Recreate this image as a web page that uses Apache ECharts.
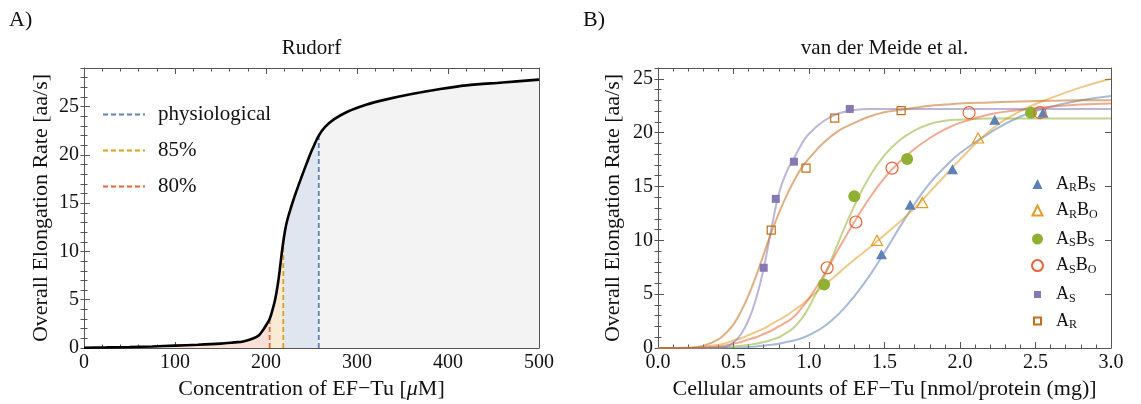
<!DOCTYPE html>
<html><head><meta charset="utf-8">
<script src="https://cdn.jsdelivr.net/npm/echarts@6/dist/echarts.min.js"></script>
<style>html,body{margin:0;padding:0;background:#fff}#c{width:1141px;height:404px}</style>
</head><body><div id="c"></div>
<script>
// ---------- Panel A (Rudorf) ----------
const rudorfX = [0, 25, 50, 75, 100, 125, 150, 165, 175, 185, 192, 197, 201, 204, 207, 210, 213, 215, 217, 219, 221, 223, 226, 230, 234, 239, 245, 251, 258, 265, 275, 290, 310, 330, 360, 390, 420, 460, 500];
const rudorfY = [0.03, 0.06, 0.1, 0.16, 0.25, 0.33, 0.45, 0.58, 0.68, 0.95, 1.3, 1.9, 2.5, 3.0, 3.9, 5.0, 6.6, 8.0, 9.6, 11.0, 12.2, 13.1, 14.1, 15.3, 16.4, 17.7, 19.2, 20.6, 22.0, 22.9, 23.7, 24.5, 25.2, 25.7, 26.3, 26.8, 27.2, 27.5, 27.8];
const thresholdNames = ['physiological', '85%', '80%'];
const thresholdX = [258, 219, 204];
const thresholdY = [22.0, 11.0, 3.0];

// ---------- Panel B (van der Meide et al.) ----------
const fitX   = [0, 0.2, 0.3, 0.4, 0.45, 0.5, 0.55, 0.6, 0.65, 0.7, 0.75, 0.8, 0.85, 0.9, 0.95, 1.0, 1.1, 1.2, 1.3, 1.4, 1.5, 1.6, 1.7, 1.8, 1.9, 2.0, 2.2, 2.4, 2.6, 2.8, 3.0];
const fitARBS = [0, 0, 0, 0, 0, 0.02, 0.05, 0.1, 0.15, 0.22, 0.3, 0.4, 0.55, 0.7, 0.9, 1.2, 2.0, 3.2, 4.8, 6.7, 8.9, 11.2, 13.4, 15.3, 16.8, 18.1, 20.0, 21.5, 22.4, 23.0, 23.4];
const fitARBO = [0, 0, 0.1, 0.3, 0.45, 0.7, 0.9, 1.2, 1.5, 1.8, 2.2, 2.6, 3.0, 3.5, 4.0, 4.6, 5.8, 7.0, 8.2, 9.3, 10.5, 11.7, 13.0, 14.5, 16.0, 17.5, 20.2, 22.0, 23.2, 24.2, 25.0];
const fitASBS = [0, 0, 0, 0.05, 0.1, 0.15, 0.2, 0.3, 0.4, 0.55, 0.75, 1.0, 1.4, 1.9, 2.7, 3.8, 6.6, 10.0, 13.2, 15.9, 17.9, 19.3, 20.2, 20.8, 21.1, 21.2, 21.3, 21.3, 21.3, 21.3, 21.3];
const fitASBO = [0, 0, 0.05, 0.15, 0.25, 0.4, 0.55, 0.8, 1.0, 1.3, 1.6, 2.0, 2.4, 2.9, 3.7, 4.6, 6.8, 9.3, 11.7, 13.9, 15.8, 17.3, 18.5, 19.5, 20.3, 20.9, 21.7, 22.1, 22.4, 22.6, 22.7];
const fitAS   = [0, 0, 0, 0.02, 0.1, 0.5, 1.3, 2.6, 4.6, 7.4, 11.0, 14.3, 16.3, 17.6, 18.9, 19.9, 21.1, 21.8, 22.1, 22.2, 22.2, 22.2, 22.2, 22.2, 22.2, 22.2, 22.2, 22.2, 22.2, 22.2, 22.2];
const fitAR   = [0, 0.02, 0.2, 0.8, 1.4, 2.2, 3.4, 4.9, 6.7, 8.7, 10.7, 12.5, 14.1, 15.5, 16.7, 17.6, 19.1, 20.2, 20.9, 21.5, 21.9, 22.1, 22.3, 22.5, 22.6, 22.7, 22.8, 22.9, 22.95, 23.0, 23.0];

const ptsARBS_x = [1.48, 1.67, 1.95, 2.23, 2.55];
const ptsARBS_y = [8.7, 13.3, 16.6, 21.2, 21.85];
const ptsARBO_x = [1.45, 1.75, 2.12];
const ptsARBO_y = [10.0, 13.5, 19.5];
const ptsASBS_x = [1.10, 1.30, 1.65, 2.47];
const ptsASBS_y = [5.9, 14.1, 17.55, 21.85];
const ptsASBO_x = [1.12, 1.31, 1.55, 2.06, 2.53];
const ptsASBO_y = [7.45, 11.7, 16.7, 21.85, 21.85];
const ptsAS_x = [0.70, 0.78, 0.90, 1.27];
const ptsAS_y = [7.45, 13.85, 17.3, 22.2];
const ptsAR_x = [0.75, 0.98, 1.17, 1.61];
const ptsAR_y = [10.95, 16.7, 21.35, 22.05];

const xTicksA = {min: 0, max: 500, interval: 100};
const xTicksB = {min: 0, max: 3, interval: 0.5};
const yTicksA = {min: 0, max: 29, interval: 5};
const yTicksB = {min: 0, max: 26, interval: 5};

// ---------- styling ----------
const F = "'Liberation Serif', 'DejaVu Serif', serif";
const INK = '#111';
const FRAME = '#555';
const C = {blue: '#5E81B5', orange: '#E19C24', green: '#8FB032', red: '#EB6235', purple: '#8778B3', brown: '#C56E1A'};

const zip = (xs, ys) => xs.map((x, i) => [x, ys[i]]);
const rudorf = zip(rudorfX, rudorfY);
const seg = (a, b) => rudorf.filter(p => p[0] >= a && p[0] <= b);

function xAxes(g, t, name, title, fmt) {
  const base = {
    gridIndex: g, type: 'value', min: t.min, max: t.max, interval: t.interval,
    axisLine: {show: true, onZero: false, lineStyle: {color: FRAME, width: 1}},
    axisTick: {show: true, inside: true, length: 6, lineStyle: {color: FRAME}},
    minorTick: {show: true, splitNumber: 5, length: 3.5, lineStyle: {color: FRAME}},
    splitLine: {show: false}, minorSplitLine: {show: false}
  };
  return [
    Object.assign({}, base, {position: 'bottom',
      axisLabel: {fontSize: 20, fontFamily: F, color: INK, margin: 5, formatter: fmt},
      name: name, nameLocation: 'middle', nameGap: 30,
      nameTextStyle: {fontSize: 22, fontFamily: F, color: INK,
        rich: {n: {fontSize: 22, fontFamily: F, color: INK}, i: {fontSize: 22, fontFamily: F, color: INK, fontStyle: 'italic'}}}}),
    Object.assign({}, base, {position: 'top', axisLabel: {show: false},
      name: title, nameLocation: 'middle', nameGap: 9,
      nameTextStyle: {fontSize: 21, fontFamily: F, color: INK}})
  ];
}
function yAxes(g, t, name, nameGap) {
  const common = {gridIndex: g, type: 'value', min: t.min, max: t.max, splitLine: {show: false}};
  return [
    Object.assign({}, common, {position: 'left', interval: t.interval,
      axisLine: {show: true, onZero: false, lineStyle: {color: FRAME, width: 1}},
      axisTick: {show: true, inside: true, length: 6, lineStyle: {color: FRAME}},
      axisLabel: {fontSize: 20, fontFamily: F, color: INK, margin: 5, showMaxLabel: false},
      name: name, nameLocation: 'middle', nameGap: nameGap,
      nameTextStyle: {fontSize: 22, fontFamily: F, color: INK}}),
    Object.assign({}, common, {position: 'left', interval: 1,
      axisLine: {show: false}, axisLabel: {show: false},
      axisTick: {show: true, inside: true, length: 3.5, lineStyle: {color: FRAME}}}),
    Object.assign({}, common, {position: 'right', interval: t.interval,
      axisLine: {show: true, onZero: false, lineStyle: {color: FRAME, width: 1}}, axisLabel: {show: false},
      axisTick: {show: true, inside: true, length: 6, lineStyle: {color: FRAME}}}),
    Object.assign({}, common, {position: 'right', interval: 1,
      axisLine: {show: false}, axisLabel: {show: false},
      axisTick: {show: true, inside: true, length: 3.5, lineStyle: {color: FRAME}}})
  ];
}

const series = [];
// Panel A shaded regions
[[0, 204, '#FBE0D7'], [204, 219, '#F9EBD3'], [219, 258, '#DFE6F0'], [258, 500, '#F3F3F3']].forEach(([a, b, col]) => {
  series.push({type: 'line', xAxisIndex: 0, yAxisIndex: 0, data: seg(a, b), smooth: 0.35,
    symbol: 'none', silent: true, lineStyle: {width: 0}, areaStyle: {color: col, opacity: 1}, z: 1});
});
const thrColors = [C.blue, C.orange, C.red];
thresholdNames.forEach((n, i) => {
  series.push({name: n, type: 'line', xAxisIndex: 0, yAxisIndex: 0,
    data: [[thresholdX[i], 0], [thresholdX[i], thresholdY[i]]], symbol: 'none', showSymbol: false, silent: true,
    lineStyle: {color: thrColors[i], width: 1.8, type: [5, 3]}, itemStyle: {color: thrColors[i]}, z: 3});
});
series.push({name: 'Rudorf', type: 'line', xAxisIndex: 0, yAxisIndex: 0, data: rudorf, smooth: 0.35,
  symbol: 'none', silent: true, lineStyle: {color: '#000', width: 2.6}, z: 4});

// Panel B fits
const fits = [[fitARBS, C.blue], [fitARBO, C.orange], [fitASBS, C.green], [fitASBO, C.red], [fitAS, C.purple], [fitAR, C.brown]];
fits.forEach(([ys, col]) => {
  series.push({type: 'line', xAxisIndex: 2, yAxisIndex: 4, data: zip(fitX, ys), smooth: 0.45,
    symbol: 'none', silent: true, lineStyle: {color: col, width: 2, opacity: 0.55}, z: 2});
});
// Panel B points
const pts = [
  ['ARBS', ptsARBS_x, ptsARBS_y, 'triangle', [11, 10], C.blue, true],
  ['ARBO', ptsARBO_x, ptsARBO_y, 'triangle', [11, 10], C.orange, false],
  ['ASBS', ptsASBS_x, ptsASBS_y, 'circle', 12, C.green, true],
  ['ASBO', ptsASBO_x, ptsASBO_y, 'circle', 12, C.red, false],
  ['AS', ptsAS_x, ptsAS_y, 'rect', 8, C.purple, true],
  ['AR', ptsAR_x, ptsAR_y, 'rect', 8, C.brown, false]
];
pts.forEach(([n, xs, ys, sym, size, col, filled]) => {
  series.push({name: n, type: 'scatter', xAxisIndex: 2, yAxisIndex: 4, data: zip(xs, ys), symbol: sym, symbolSize: size,
    silent: true,
    itemStyle: filled ? {color: col, opacity: 1} : {color: 'rgba(255,255,255,0)', borderColor: col, borderWidth: 1.2, opacity: 1},
    z: 5});
});

const richLabels = {
  ARBS: '{n|A}{s|R}{n|B}{s|S}', ARBO: '{n|A}{s|R}{n|B}{s|O}',
  ASBS: '{n|A}{s|S}{n|B}{s|S}', ASBO: '{n|A}{s|S}{n|B}{s|O}',
  AS: '{n|A}{s|S}', AR: '{n|A}{s|R}'
};
function bLegend(names, top, h) {
  const cx = 1036.5, textStart = 1055;
  const left = cx - h / 2;
  return {data: names, orient: 'vertical', left: left, top: top, padding: 0, itemGap: 7.6,
    itemWidth: h, itemHeight: h, selectedMode: false,
    formatter: n => richLabels[n],
    textStyle: {padding: [0, 0, 0, textStart - (left + h + 5)], rich: {
      n: {fontSize: 18, fontFamily: F, color: INK, lineHeight: 20},
      s: {fontSize: 12, fontFamily: F, color: INK, lineHeight: 12, verticalAlign: 'bottom'}}}};
}

const option = {
  animation: false,
  backgroundColor: '#fff',
  title: [
    {text: 'A)', left: 9, top: 9, padding: 0, textStyle: {fontSize: 22, fontWeight: 'normal', fontFamily: F, color: INK}},
    {text: 'B)', left: 583, top: 9, padding: 0, textStyle: {fontSize: 22, fontWeight: 'normal', fontFamily: F, color: INK}}
  ],
  grid: [
    {left: 84, top: 68, width: 455, height: 280, outerBoundsMode: 'none', containLabel: false},
    {left: 658, top: 68, width: 453, height: 280, outerBoundsMode: 'none', containLabel: false}
  ],
  xAxis: [].concat(
    xAxes(0, xTicksA, 'Concentration of EF\u2212Tu [{i|\u03bc}M]', 'Rudorf', v => String(v)),
    xAxes(1, xTicksB, 'Cellular amounts of EF\u2212Tu [nmol/protein (mg)]', 'van der Meide et al.', v => v.toFixed(1))
  ),
  yAxis: [].concat(
    yAxes(0, yTicksA, 'Overall Elongation Rate [aa/s]', 32),
    yAxes(1, yTicksB, 'Overall Elongation Rate [aa/s]', 34)
  ),
  legend: [
    {data: thresholdNames, orient: 'vertical', left: 102, top: 104, padding: 0, itemGap: 15,
      itemWidth: 42, itemHeight: 14, selectedMode: false, itemStyle: {opacity: 0},
      textStyle: {fontSize: 21, fontFamily: F, color: INK, lineHeight: 21, padding: [0, 0, 0, 8]}},
    bLegend(['ARBS', 'ARBO'], 175, 10),
    bLegend(['ASBS', 'ASBO'], 230, 11),
    bLegend(['AS', 'AR'], 285.5, 7)
  ],
  series: series
};
const chart = echarts.init(document.getElementById('c'), null, {renderer: 'canvas'});
chart.setOption(option);
</script>
</body></html>
